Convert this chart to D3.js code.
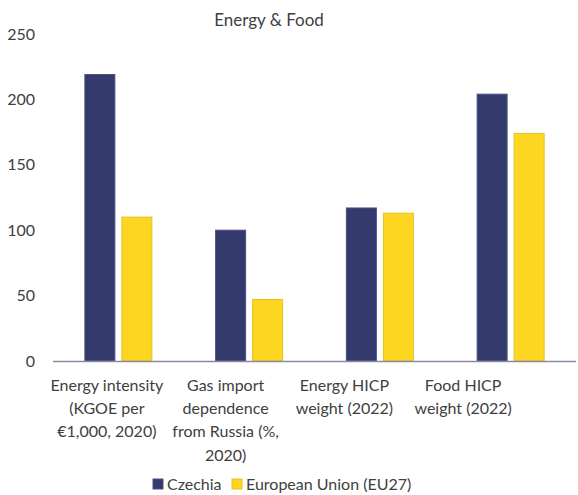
<!DOCTYPE html>
<html><head><meta charset="utf-8">
<script src="https://cdnjs.cloudflare.com/ajax/libs/d3/7.8.5/d3.min.js"></script>
<style>body{margin:0;background:#fff}svg{display:block}text{font-family:Lato,"Open Sans",sans-serif;fill:#404040}</style>
</head><body><div id="chart"></div>
<script>
const categories = [
  ["Energy intensity","(KGOE per","€1,000, 2020)"],
  ["Gas import","dependence","from Russia (%,","2020)"],
  ["Energy HICP","weight (2022)"],
  ["Food HICP","weight (2022)"]
];
const seriesNames = ["Czechia","European Union (EU27)"];
const czechia = [219, 100, 117, 204];
const eu27 = [110, 47, 113, 174];
const yTicks = [0, 50, 100, 150, 200, 250];
const colors = ["#353a6e", "#fdd622"];
const strokes = ["#4a4f80", "#e6c21e"];

const W = 578, H = 495;
const svg = d3.select("#chart").append("svg").attr("width", W).attr("height", H);

const plotL = 53, plotR = 576, y0 = 361, yTop = 34;
const y = d3.scaleLinear().domain([0, 250]).range([y0, yTop]);
const idx = categories.map((d, i) => i);
const x0 = d3.scaleBand().domain(idx).range([plotL, plotR]).paddingInner(0.4876).paddingOuter(0.2438);
const x1 = d3.scaleBand().domain([0, 1]).range([0, x0.bandwidth()]).paddingInner(0.19);
const series = [czechia, eu27];

// title
svg.append("text").attr("x", 269).attr("y", 26).attr("text-anchor", "middle")
  .style("font-size", "17px").text("Energy & Food");

// y axis labels
const yAxis = d3.axisLeft(y).tickValues(yTicks).tickSize(0).tickPadding(0);
const yg = svg.append("g").attr("transform", "translate(35,0)").call(yAxis);
yg.select(".domain").remove();
yg.selectAll("text").style("font-size", "16px").style("font-family", "Lato, sans-serif").attr("fill", "#404040");

// bars
series.forEach((vals, s) => {
  svg.append("g").selectAll("rect").data(vals).join("rect")
    .attr("x", (d, i) => x0(i) + x1(s))
    .attr("y", d => y(d))
    .attr("width", x1.bandwidth())
    .attr("height", d => y0 - y(d))
    .attr("fill", colors[s])
    .attr("stroke", strokes[s]).attr("stroke-width", 1);
});

// x axis line
svg.append("line").attr("x1", plotL).attr("x2", plotR).attr("y1", y0 + 0.5).attr("y2", y0 + 0.5)
  .attr("stroke", "#8a8aa2").attr("stroke-width", 1.5);

// category labels (Excel renders them slightly left of the bars)
const xl = d3.scaleBand().domain(idx).range([47.5, 522.5]);
const xAxis = d3.axisBottom(xl).tickSize(0).tickFormat(() => "");
const xg = svg.append("g").attr("transform", `translate(0,${y0})`).call(xAxis);
xg.select(".domain").remove();
xg.selectAll(".tick").each(function(d) {
  const t = d3.select(this).append("text").attr("text-anchor", "middle").attr("y", 0)
    .style("font-size", "16px").attr("fill", "#404040");
  categories[d].forEach((line, k) => {
    t.append("tspan").attr("x", 0).attr("y", 30 + k * 23.2).text(line);
  });
});

// legend
const legend = svg.append("g");
const legX = [153, 232];
seriesNames.forEach((n, s) => {
  legend.append("rect").attr("x", legX[s]).attr("y", 479).attr("width", 10).attr("height", 10)
    .attr("fill", colors[s]).attr("stroke", strokes[s]);
  legend.append("text").attr("x", legX[s] + 14).attr("y", 490).style("font-size", "16px").text(n);
});
</script></body></html>
